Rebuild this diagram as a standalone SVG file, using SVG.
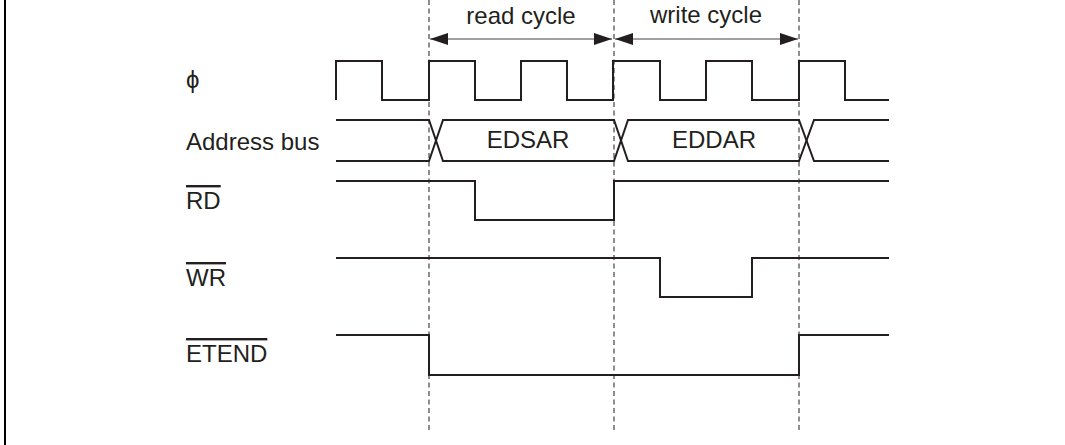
<svg xmlns="http://www.w3.org/2000/svg" width="1065" height="445" viewBox="0 0 1065 445">
<style>
.lbl{font-family:"Liberation Sans",Arial,sans-serif;font-size:24px;fill:#231f20}
.mid{text-anchor:middle}
.ov{text-decoration:overline}
.sig{fill:none;stroke:#231f20;stroke-width:2;stroke-linejoin:miter}
.dash{fill:none;stroke:#444;stroke-width:1.2;stroke-dasharray:5,3.5}
.dim{fill:none;stroke:#808080;stroke-width:1.6}
</style>
<defs>
<marker id="ah" viewBox="0 0 18 12" refX="18" refY="6" markerWidth="18" markerHeight="12" markerUnits="userSpaceOnUse" orient="auto-start-reverse">
<path d="M0,0 L18,6 L0,12 Z" fill="#231f20"/>
</marker>
</defs>
<rect width="1065" height="445" fill="#fff"/>
<line x1="5" y1="0" x2="5" y2="445" stroke="#000" stroke-width="2"/>

<g id="connectors">
<line class="dash" x1="429" y1="0" x2="429" y2="430"/>
<line class="dash" x1="614" y1="0" x2="614" y2="430"/>
<line class="dash" x1="799" y1="0" x2="799" y2="430"/>
<line class="dim" x1="430" y1="39" x2="612" y2="39" marker-start="url(#ah)" marker-end="url(#ah)"/>
<line class="dim" x1="615" y1="39" x2="798" y2="39" marker-start="url(#ah)" marker-end="url(#ah)"/>
</g>

<g id="read-cycle"><text class="lbl mid" x="521" y="24">read cycle</text></g>
<g id="write-cycle"><text class="lbl mid" x="706" y="23">write cycle</text></g>

<g id="phi">
<text class="lbl" x="186" y="88">ϕ</text>
<path class="sig" d="M336,100 V61 H382 V100 H429 V61 H475 V100 H521 V61 H567 V100 H613 V61 H660 V100 H706 V61 H752 V100 H799 V61 H845 V100 H889"/>
</g>

<g id="address-bus">
<text class="lbl" x="186" y="150">Address bus</text>
<path class="sig" d="M336,120 H429 L443,161 H614 L628,120 H799 L814,161 H889"/>
<path class="sig" d="M336,161 H429 L443,120 H614 L628,161 H799 L814,120 H889"/>
<text class="lbl mid" x="528" y="148">EDSAR</text>
<text class="lbl mid" x="714" y="148">EDDAR</text>
</g>

<g id="rd">
<text class="lbl ov" x="186" y="209">RD</text>
<path class="sig" d="M336,181 H475 V220 H614 V181 H889"/>
</g>

<g id="wr">
<text class="lbl ov" x="186" y="286">WR</text>
<path class="sig" d="M336,258 H660 V297 H752 V258 H889"/>
</g>

<g id="etend">
<text class="lbl ov" x="186" y="362">ETEND</text>
<path class="sig" d="M336,335 H429 V375 H799 V335 H889"/>
</g>
</svg>
